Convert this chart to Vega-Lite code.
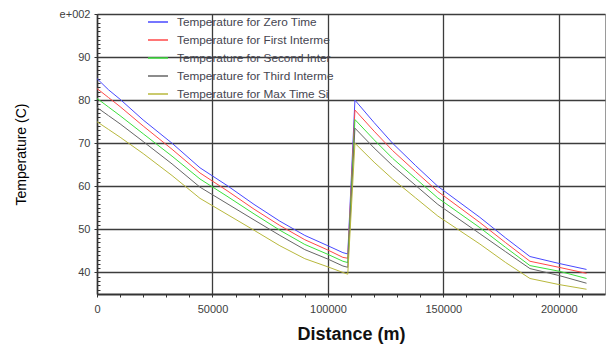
{
  "$schema": "https://vega.github.io/schema/vega-lite/v6.json",
  "width": 508,
  "height": 280,
  "autosize": {"type": "none"},
  "padding": {"left": 97, "top": 14, "right": 1, "bottom": 53},
  "background": "white",
  "config": {
    "font": "Liberation Sans",
    "view": {"stroke": "#9a9a9a", "strokeWidth": 1}
  },
  "data": {
    "values": [
      {"series": "Temperature for Zero Time", "distance": 0, "temp": 85.0},
      {"series": "Temperature for Zero Time", "distance": 5000, "temp": 82.4},
      {"series": "Temperature for Zero Time", "distance": 10000, "temp": 80.2},
      {"series": "Temperature for Zero Time", "distance": 20000, "temp": 75.4},
      {"series": "Temperature for Zero Time", "distance": 32500, "temp": 70.0},
      {"series": "Temperature for Zero Time", "distance": 44600, "temp": 64.3},
      {"series": "Temperature for Zero Time", "distance": 56300, "temp": 60.2},
      {"series": "Temperature for Zero Time", "distance": 68000, "temp": 55.8},
      {"series": "Temperature for Zero Time", "distance": 79200, "temp": 51.9},
      {"series": "Temperature for Zero Time", "distance": 90000, "temp": 48.6},
      {"series": "Temperature for Zero Time", "distance": 100000, "temp": 46.2},
      {"series": "Temperature for Zero Time", "distance": 106500, "temp": 44.6},
      {"series": "Temperature for Zero Time", "distance": 108600, "temp": 44.3},
      {"series": "Temperature for Zero Time", "distance": 111700, "temp": 80.0},
      {"series": "Temperature for Zero Time", "distance": 120000, "temp": 74.8},
      {"series": "Temperature for Zero Time", "distance": 128000, "temp": 70.0},
      {"series": "Temperature for Zero Time", "distance": 138000, "temp": 64.8},
      {"series": "Temperature for Zero Time", "distance": 147600, "temp": 60.0},
      {"series": "Temperature for Zero Time", "distance": 165800, "temp": 52.8},
      {"series": "Temperature for Zero Time", "distance": 177000, "temp": 48.0},
      {"series": "Temperature for Zero Time", "distance": 187500, "temp": 43.7},
      {"series": "Temperature for Zero Time", "distance": 200000, "temp": 42.1},
      {"series": "Temperature for Zero Time", "distance": 212000, "temp": 40.7},

      {"series": "Temperature for First Interme", "distance": 0, "temp": 82.7},
      {"series": "Temperature for First Interme", "distance": 5000, "temp": 80.6},
      {"series": "Temperature for First Interme", "distance": 10000, "temp": 78.5},
      {"series": "Temperature for First Interme", "distance": 20000, "temp": 74.0},
      {"series": "Temperature for First Interme", "distance": 32500, "temp": 68.6},
      {"series": "Temperature for First Interme", "distance": 44600, "temp": 63.1},
      {"series": "Temperature for First Interme", "distance": 56300, "temp": 59.0},
      {"series": "Temperature for First Interme", "distance": 68000, "temp": 54.7},
      {"series": "Temperature for First Interme", "distance": 79200, "temp": 50.9},
      {"series": "Temperature for First Interme", "distance": 90000, "temp": 47.6},
      {"series": "Temperature for First Interme", "distance": 100000, "temp": 45.2},
      {"series": "Temperature for First Interme", "distance": 106500, "temp": 43.5},
      {"series": "Temperature for First Interme", "distance": 108600, "temp": 43.3},
      {"series": "Temperature for First Interme", "distance": 111700, "temp": 77.7},
      {"series": "Temperature for First Interme", "distance": 120000, "temp": 72.8},
      {"series": "Temperature for First Interme", "distance": 128000, "temp": 68.3},
      {"series": "Temperature for First Interme", "distance": 138000, "temp": 63.4},
      {"series": "Temperature for First Interme", "distance": 147600, "temp": 58.8},
      {"series": "Temperature for First Interme", "distance": 165800, "temp": 51.6},
      {"series": "Temperature for First Interme", "distance": 177000, "temp": 46.9},
      {"series": "Temperature for First Interme", "distance": 187500, "temp": 42.6},
      {"series": "Temperature for First Interme", "distance": 200000, "temp": 41.2},
      {"series": "Temperature for First Interme", "distance": 212000, "temp": 39.8},

      {"series": "Temperature for Second Inter", "distance": 0, "temp": 80.4},
      {"series": "Temperature for Second Inter", "distance": 5000, "temp": 78.4},
      {"series": "Temperature for Second Inter", "distance": 10000, "temp": 76.4},
      {"series": "Temperature for Second Inter", "distance": 20000, "temp": 72.2},
      {"series": "Temperature for Second Inter", "distance": 32500, "temp": 67.0},
      {"series": "Temperature for Second Inter", "distance": 44600, "temp": 61.7},
      {"series": "Temperature for Second Inter", "distance": 56300, "temp": 57.7},
      {"series": "Temperature for Second Inter", "distance": 68000, "temp": 53.6},
      {"series": "Temperature for Second Inter", "distance": 79200, "temp": 49.8},
      {"series": "Temperature for Second Inter", "distance": 90000, "temp": 46.5},
      {"series": "Temperature for Second Inter", "distance": 100000, "temp": 44.2},
      {"series": "Temperature for Second Inter", "distance": 106500, "temp": 42.6},
      {"series": "Temperature for Second Inter", "distance": 108600, "temp": 42.3},
      {"series": "Temperature for Second Inter", "distance": 111700, "temp": 75.5},
      {"series": "Temperature for Second Inter", "distance": 120000, "temp": 70.8},
      {"series": "Temperature for Second Inter", "distance": 128000, "temp": 66.5},
      {"series": "Temperature for Second Inter", "distance": 138000, "temp": 61.8},
      {"series": "Temperature for Second Inter", "distance": 147600, "temp": 57.3},
      {"series": "Temperature for Second Inter", "distance": 165800, "temp": 50.4},
      {"series": "Temperature for Second Inter", "distance": 177000, "temp": 45.8},
      {"series": "Temperature for Second Inter", "distance": 187500, "temp": 41.6},
      {"series": "Temperature for Second Inter", "distance": 200000, "temp": 40.3},
      {"series": "Temperature for Second Inter", "distance": 212000, "temp": 38.6},

      {"series": "Temperature for Third Interme", "distance": 0, "temp": 78.3},
      {"series": "Temperature for Third Interme", "distance": 5000, "temp": 76.4},
      {"series": "Temperature for Third Interme", "distance": 10000, "temp": 74.5},
      {"series": "Temperature for Third Interme", "distance": 20000, "temp": 70.4},
      {"series": "Temperature for Third Interme", "distance": 32500, "temp": 65.2},
      {"series": "Temperature for Third Interme", "distance": 44600, "temp": 59.8},
      {"series": "Temperature for Third Interme", "distance": 56300, "temp": 56.0},
      {"series": "Temperature for Third Interme", "distance": 68000, "temp": 52.2},
      {"series": "Temperature for Third Interme", "distance": 79200, "temp": 48.6},
      {"series": "Temperature for Third Interme", "distance": 90000, "temp": 45.3},
      {"series": "Temperature for Third Interme", "distance": 100000, "temp": 43.1},
      {"series": "Temperature for Third Interme", "distance": 106500, "temp": 41.5},
      {"series": "Temperature for Third Interme", "distance": 108600, "temp": 41.2},
      {"series": "Temperature for Third Interme", "distance": 111700, "temp": 73.5},
      {"series": "Temperature for Third Interme", "distance": 120000, "temp": 68.9},
      {"series": "Temperature for Third Interme", "distance": 128000, "temp": 64.8},
      {"series": "Temperature for Third Interme", "distance": 138000, "temp": 60.2},
      {"series": "Temperature for Third Interme", "distance": 147600, "temp": 55.8},
      {"series": "Temperature for Third Interme", "distance": 165800, "temp": 49.0},
      {"series": "Temperature for Third Interme", "distance": 177000, "temp": 44.8},
      {"series": "Temperature for Third Interme", "distance": 187500, "temp": 40.9},
      {"series": "Temperature for Third Interme", "distance": 200000, "temp": 39.3},
      {"series": "Temperature for Third Interme", "distance": 212000, "temp": 37.5},

      {"series": "Temperature for Max Time Si", "distance": 0, "temp": 75.0},
      {"series": "Temperature for Max Time Si", "distance": 5000, "temp": 73.2},
      {"series": "Temperature for Max Time Si", "distance": 10000, "temp": 71.4},
      {"series": "Temperature for Max Time Si", "distance": 20000, "temp": 67.6},
      {"series": "Temperature for Max Time Si", "distance": 32500, "temp": 62.5},
      {"series": "Temperature for Max Time Si", "distance": 44600, "temp": 57.2},
      {"series": "Temperature for Max Time Si", "distance": 56300, "temp": 53.5},
      {"series": "Temperature for Max Time Si", "distance": 68000, "temp": 49.8},
      {"series": "Temperature for Max Time Si", "distance": 79200, "temp": 46.2},
      {"series": "Temperature for Max Time Si", "distance": 90000, "temp": 43.2},
      {"series": "Temperature for Max Time Si", "distance": 100000, "temp": 41.3},
      {"series": "Temperature for Max Time Si", "distance": 106500, "temp": 40.0},
      {"series": "Temperature for Max Time Si", "distance": 108600, "temp": 39.6},
      {"series": "Temperature for Max Time Si", "distance": 111700, "temp": 70.0},
      {"series": "Temperature for Max Time Si", "distance": 120000, "temp": 65.6},
      {"series": "Temperature for Max Time Si", "distance": 128000, "temp": 61.7},
      {"series": "Temperature for Max Time Si", "distance": 138000, "temp": 57.3},
      {"series": "Temperature for Max Time Si", "distance": 147600, "temp": 53.1},
      {"series": "Temperature for Max Time Si", "distance": 165800, "temp": 46.6},
      {"series": "Temperature for Max Time Si", "distance": 177000, "temp": 42.3},
      {"series": "Temperature for Max Time Si", "distance": 187500, "temp": 38.6},
      {"series": "Temperature for Max Time Si", "distance": 200000, "temp": 37.2},
      {"series": "Temperature for Max Time Si", "distance": 212000, "temp": 36.1}
    ]
  },
  "layer": [
    {
      "mark": {"type": "line", "strokeWidth": 1, "clip": true},
      "encoding": {
        "x": {
          "field": "distance",
          "type": "quantitative",
          "scale": {"domain": [0, 220000], "nice": false, "zero": false},
          "axis": {
            "values": [0, 50000, 100000, 150000, 200000],
            "format": "d",
            "title": "Distance (m)",
            "titleFontSize": 18,
            "titleFontWeight": "bold",
            "titleColor": "#111111",
            "titlePadding": 11,
            "labelFontSize": 11,
            "labelColor": "#404040",
            "labelPadding": 6,
            "labelFlush": false,
            "tickSize": 3,
            "tickColor": "#333333",
            "domainColor": "#333333",
            "domainWidth": 2,
            "grid": true,
            "gridColor": "#3c3c3c",
            "gridWidth": 1.3
          }
        },
        "y": {
          "field": "temp",
          "type": "quantitative",
          "scale": {"domain": [35, 100], "nice": false, "zero": false},
          "axis": {
            "values": [40, 50, 60, 70, 80, 90, 100],
            "labelExpr": "datum.value == 100 ? 'e+002' : datum.label",
            "title": "Temperature (C)",
            "titleFontSize": 14,
            "titleFontWeight": "normal",
            "titleColor": "#000000",
            "titlePadding": 31,
            "labelFontSize": 11,
            "labelColor": "#404040",
            "labelPadding": 4,
            "labelFlush": false,
            "tickSize": 3,
            "tickColor": "#333333",
            "domainColor": "#333333",
            "domainWidth": 1.5,
            "grid": true,
            "gridColor": "#3c3c3c",
            "gridWidth": 1.3
          }
        },
        "color": {
          "field": "series",
          "type": "nominal",
          "scale": {
            "domain": [
              "Temperature for Zero Time",
              "Temperature for First Interme",
              "Temperature for Second Inter",
              "Temperature for Third Interme",
              "Temperature for Max Time Si"
            ],
            "range": ["#4848ff", "#ff4848", "#3ce03c", "#666666", "#b8b83c"]
          },
          "legend": {
            "orient": "none",
            "legendX": 50,
            "legendY": -3,
            "title": null,
            "padding": 0,
            "symbolSize": 400,
            "labelFontSize": 11.8,
            "labelColor": "#454550",
            "labelOffset": 8,
            "labelLimit": 300,
            "rowPadding": 0
          }
        }
      }
    },
    {
      "mark": {"type": "point", "opacity": 0},
      "encoding": {
        "x": {
          "field": "distance",
          "type": "quantitative",
          "axis": {
            "orient": "bottom",
            "values": [10000, 20000, 30000, 40000, 60000, 70000, 80000, 90000, 110000, 120000, 130000, 140000, 160000, 170000, 180000, 190000, 210000],
            "labels": false,
            "title": null,
            "domain": false,
            "grid": false,
            "tickSize": 3,
            "tickColor": "#333333"
          }
        },
        "y": {
          "field": "temp",
          "type": "quantitative",
          "axis": {
            "orient": "left",
            "values": [36, 37, 38, 39, 41, 42, 43, 44, 45, 46, 47, 48, 49, 51, 52, 53, 54, 55, 56, 57, 58, 59, 61, 62, 63, 64, 65, 66, 67, 68, 69, 71, 72, 73, 74, 75, 76, 77, 78, 79, 81, 82, 83, 84, 85, 86, 87, 88, 89, 91, 92, 93, 94, 95, 96, 97, 98, 99],
            "labels": false,
            "title": null,
            "domain": false,
            "grid": false,
            "tickSize": -3,
            "tickColor": "#333333"
          }
        }
      }
    }
  ],
  "resolve": {"axis": {"x": "independent", "y": "independent"}}
}
